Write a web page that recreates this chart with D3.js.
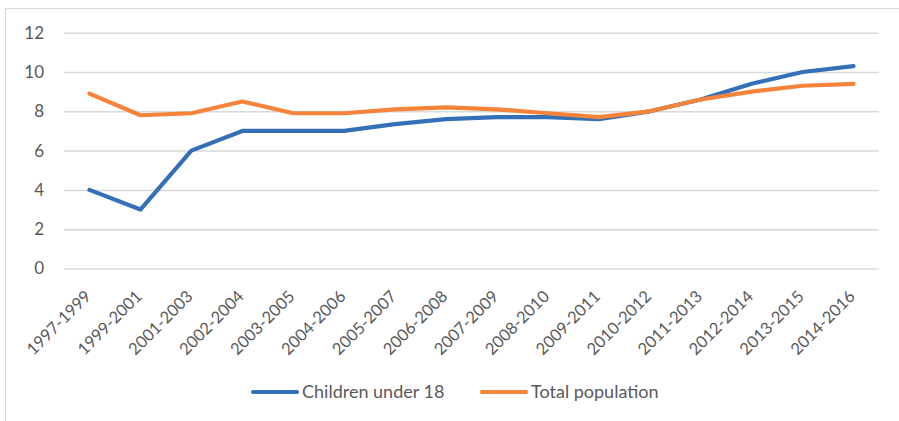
<!DOCTYPE html>
<html>
<head>
<meta charset="utf-8">
<script src="https://cdn.jsdelivr.net/npm/d3@7"></script>
<style>
  html, body { margin: 0; padding: 0; background: #fff; }
  svg { display: block; }
  text { font-family: Lato, "Open Sans", sans-serif; fill: #595959; }
</style>
</head>
<body>
<svg id="chart" width="899" height="421"></svg>
<script>
// Three-year periods
const periods = ["1997-1999","1999-2001","2001-2003","2002-2004","2003-2005","2004-2006",
  "2005-2007","2006-2008","2007-2009","2008-2010","2009-2011","2010-2012",
  "2011-2013","2012-2014","2013-2015","2014-2016"];
// Rates (%)
const childrenUnder18 = [4.0, 3.0, 6.0, 7.0, 7.0, 7.0, 7.35, 7.6, 7.7, 7.7, 7.6, 8.0, 8.6, 9.4, 10.0, 10.3];
const totalPopulation = [8.9, 7.8, 7.9, 8.5, 7.9, 7.9, 8.1, 8.2, 8.1, 7.9, 7.7, 8.0, 8.6, 9.0, 9.3, 9.4];
const yTicks = [0, 2, 4, 6, 8, 10, 12];

const seriesNames = ["Children under 18", "Total population"];
const seriesColors = ["#3470b8", "#f5843a"];
const series = [childrenUnder18, totalPopulation];

const svg = d3.select("#chart");
const W = 899, H = 421;
const plot = { left: 64, right: 879, top: 32.7, bottom: 268.5 };

// chart area frame (left and top edges visible)
svg.append("path")
  .attr("d", `M5.5,${H} V8.5 H${W}`)
  .attr("fill", "none").attr("stroke", "#d9d9d9").attr("stroke-width", 1.2);

const x = d3.scaleBand().domain(periods).range([plot.left, plot.right]).padding(0);
const y = d3.scaleLinear().domain([0, 12]).range([plot.bottom, plot.top]);

// horizontal gridlines + y labels
const yAxis = d3.axisLeft(y).tickValues(yTicks).tickSize(-(plot.right - plot.left)).tickPadding(20);
const gy = svg.append("g").attr("transform", `translate(${plot.left},0)`).call(yAxis);
gy.select(".domain").remove();
gy.selectAll(".tick line").attr("stroke", "#d9d9d9").attr("stroke-width", 1.5);
gy.selectAll(".tick text").attr("font-size", 17).style("fill", "#595959")
  .attr("font-family", "Lato, 'Open Sans', sans-serif");

// category labels, rotated
const xAxis = d3.axisBottom(x).tickSize(0).tickPadding(0);
const gx = svg.append("g").attr("transform", `translate(0,${plot.bottom})`).call(xAxis);
gx.select(".domain").remove();
gx.selectAll(".tick text")
  .attr("font-size", 16.5)
  .attr("font-family", "Lato, 'Open Sans', sans-serif")
  .style("fill", "#595959")
  .attr("text-anchor", "end")
  .attr("dy", null)
  .attr("y", 0)
  .attr("transform", "translate(2.5,29) rotate(-45)");

// series lines
const line = d3.line()
  .x((d, i) => x(periods[i]) + x.bandwidth() / 2)
  .y(d => y(d));

series.forEach((vals, k) => {
  svg.append("path")
    .datum(vals)
    .attr("fill", "none")
    .attr("stroke", seriesColors[k])
    .attr("stroke-width", 4.2)
    .attr("stroke-linejoin", "round")
    .attr("stroke-linecap", "round")
    .attr("d", line);
});

// legend
const legendItems = [
  { x1: 253, x2: 297, tx: 302 },
  { x1: 482, x2: 526, tx: 531 }
];
const legendY = 392;
legendItems.forEach((it, k) => {
  svg.append("line")
    .attr("x1", it.x1).attr("x2", it.x2)
    .attr("y1", legendY).attr("y2", legendY)
    .attr("stroke", seriesColors[k]).attr("stroke-width", 4.2)
    .attr("stroke-linecap", "round");
  svg.append("text")
    .attr("x", it.tx).attr("y", legendY)
    .attr("dy", "0.35em")
    .attr("font-size", 18)
    .text(seriesNames[k]);
});
</script>
</body>
</html>
